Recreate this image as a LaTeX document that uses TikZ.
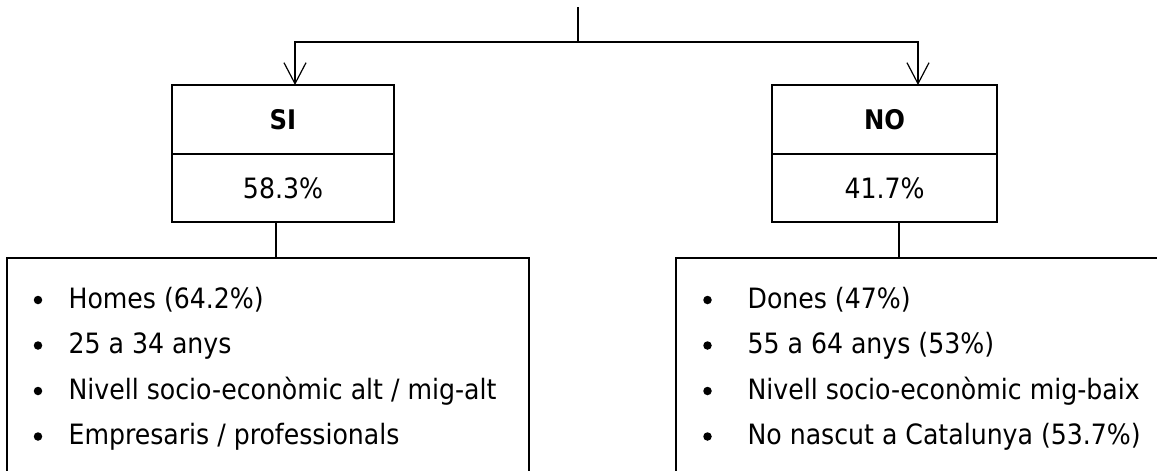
\documentclass[tikz,border=0pt]{standalone}
\usepackage{fontspec}
\setmainfont{DejaVu Sans Condensed}
\usetikzlibrary{arrows.meta}
\usetikzlibrary{positioning}

\begin{document}
\begin{tikzpicture}[x=1pt,y=-1pt,line width=1.2pt,
	head/.style={draw,minimum width=222pt,minimum height=69pt,inner sep=0pt,outer sep=0pt,font=\fontsize{27}{30}\selectfont\bfseries},
	pct/.style={draw,minimum width=222pt,minimum height=68pt,inner sep=0pt,outer sep=0pt,font=\fontsize{28}{32}\selectfont},
	listbox/.style={draw,anchor=north west,inner sep=0pt,outer sep=0pt,minimum height=240pt},
	entry/.style={anchor=base west,inner sep=0pt,font=\fontsize{28}{32}\selectfont},
	bullet/.style={circle,fill,inner sep=0pt,minimum size=8.5pt},
	>={Straight Barb[length=21pt,width=22pt]}]
\useasboundingbox (0,0) rectangle (1157,471);
\coordinate (root) at (578,7);
\coordinate (fork) at (578,42);
% answer boxes
\node[head] (si) at (283,119.5) {SI};
\node[pct,below=0pt of si] (sipct) {58.3\%};
\node[head,minimum width=225pt] (no) at (884.5,119.5) {NO};
\node[pct,minimum width=225pt,below=0pt of no] (nopct) {41.7\%};
% profile boxes
\node[listbox,minimum width=522pt] (silist) at (7,258) {};
\node[listbox,minimum width=520pt] (nolist) at (676,258) {};
\draw (root) -- (fork);
\draw[->] (fork) -| ([xshift=12pt]si.north);
\draw[->] (fork) -| ([xshift=33.5pt]no.north);
\draw ([xshift=-7pt]sipct.south) -- ([xshift=-7pt]sipct.south |- silist.north);
\draw ([xshift=14.5pt]nopct.south) -- ([xshift=14.5pt]nopct.south |- nolist.north);
% profile SI
\node[bullet] (sib1) at (38,300) {};
\node[bullet] (sib2) at (38,345.5) {};
\node[bullet] (sib3) at (38,391) {};
\node[bullet] (sib4) at (38,436.5) {};
\node[entry] (si1) at (68,308) {Homes (64.2\%)};
\node[entry] (si2) at (68,353.5) {25 a 34 anys};
\node[entry] (si3) at (68,399) {Nivell socio-econòmic alt / mig-alt};
\node[entry] (si4) at (68,444.5) {Empresaris / professionals};
% profile NO
\node[bullet] (nob1) at (707.5,300) {};
\node[bullet] (nob2) at (707.5,345.5) {};
\node[bullet] (nob3) at (707.5,391) {};
\node[bullet] (nob4) at (707.5,436.5) {};
\node[entry] (no1) at (747,308) {Dones (47\%)};
\node[entry] (no2) at (747,353.5) {55 a 64 anys (53\%)};
\node[entry] (no3) at (747,399) {Nivell socio-econòmic mig-baix};
\node[entry] (no4) at (747,444.5) {No nascut a Catalunya (53.7\%)};
\end{tikzpicture}
\end{document}
